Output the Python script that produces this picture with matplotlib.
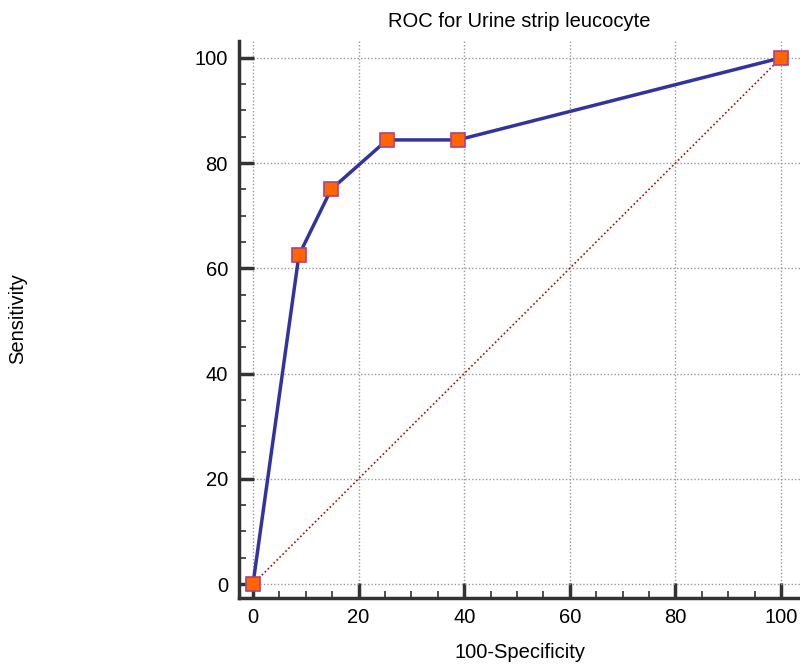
import numpy as np
import matplotlib.pyplot as plt
from matplotlib.ticker import MultipleLocator

plt.rcParams['font.family'] = ['Liberation Sans', 'DejaVu Sans']

# ROC points
fpr = [0, 8.7, 14.8, 25.4, 38.8, 100]
tpr = [0, 62.5, 75.0, 84.4, 84.4, 100]
ticks = [0, 20, 40, 60, 80, 100]

fig = plt.figure(figsize=(8, 6.64), dpi=100)
ax = fig.add_axes([239 / 800, 66 / 664, 561 / 800, 557 / 664])

# reference diagonal
ax.plot([0, 100], [0, 100], color='#a01010', linestyle=(0, (1, 1.5)), linewidth=1.2, zorder=2)
# ROC curve
ax.plot(fpr, tpr, color='#3333a0', linewidth=2.5, marker='s', markersize=10,
        markerfacecolor='#ff6600', markeredgecolor='#b04080', markeredgewidth=1.2, zorder=3,
        clip_on=False)

ax.set_xlim(-2.65, 103.6)
ax.set_ylim(-2.66, 103.2)
ax.set_xticks(ticks)
ax.set_yticks(ticks)
ax.xaxis.set_minor_locator(MultipleLocator(5))
ax.yaxis.set_minor_locator(MultipleLocator(5))

for s in ['top', 'right']:
    ax.spines[s].set_visible(False)
for s in ['left', 'bottom']:
    ax.spines[s].set_linewidth(2.5)
    ax.spines[s].set_color('#333333')

ax.tick_params(which='major', direction='in', length=10.5, width=2.5, color='#333333',
               labelsize=14.5)
ax.tick_params(which='minor', direction='in', length=5, width=1.2, color='#333333')
ax.tick_params(axis='y', which='major', pad=8)
ax.tick_params(axis='x', which='major', pad=7)

ax.grid(True, which='major', color='#999999', linestyle=(0, (1, 1.5)), linewidth=1.0)

ax.set_title('ROC for Urine strip leucocyte', fontsize=14.5, pad=10)
ax.set_xlabel('100-Specificity', fontsize=14.5, labelpad=12)
fig.text(18 / 800, 1 - 319 / 664, 'Sensitivity', rotation=90, fontsize=14.5,
         ha='center', va='center')

fig.savefig('out.png', dpi=100)
